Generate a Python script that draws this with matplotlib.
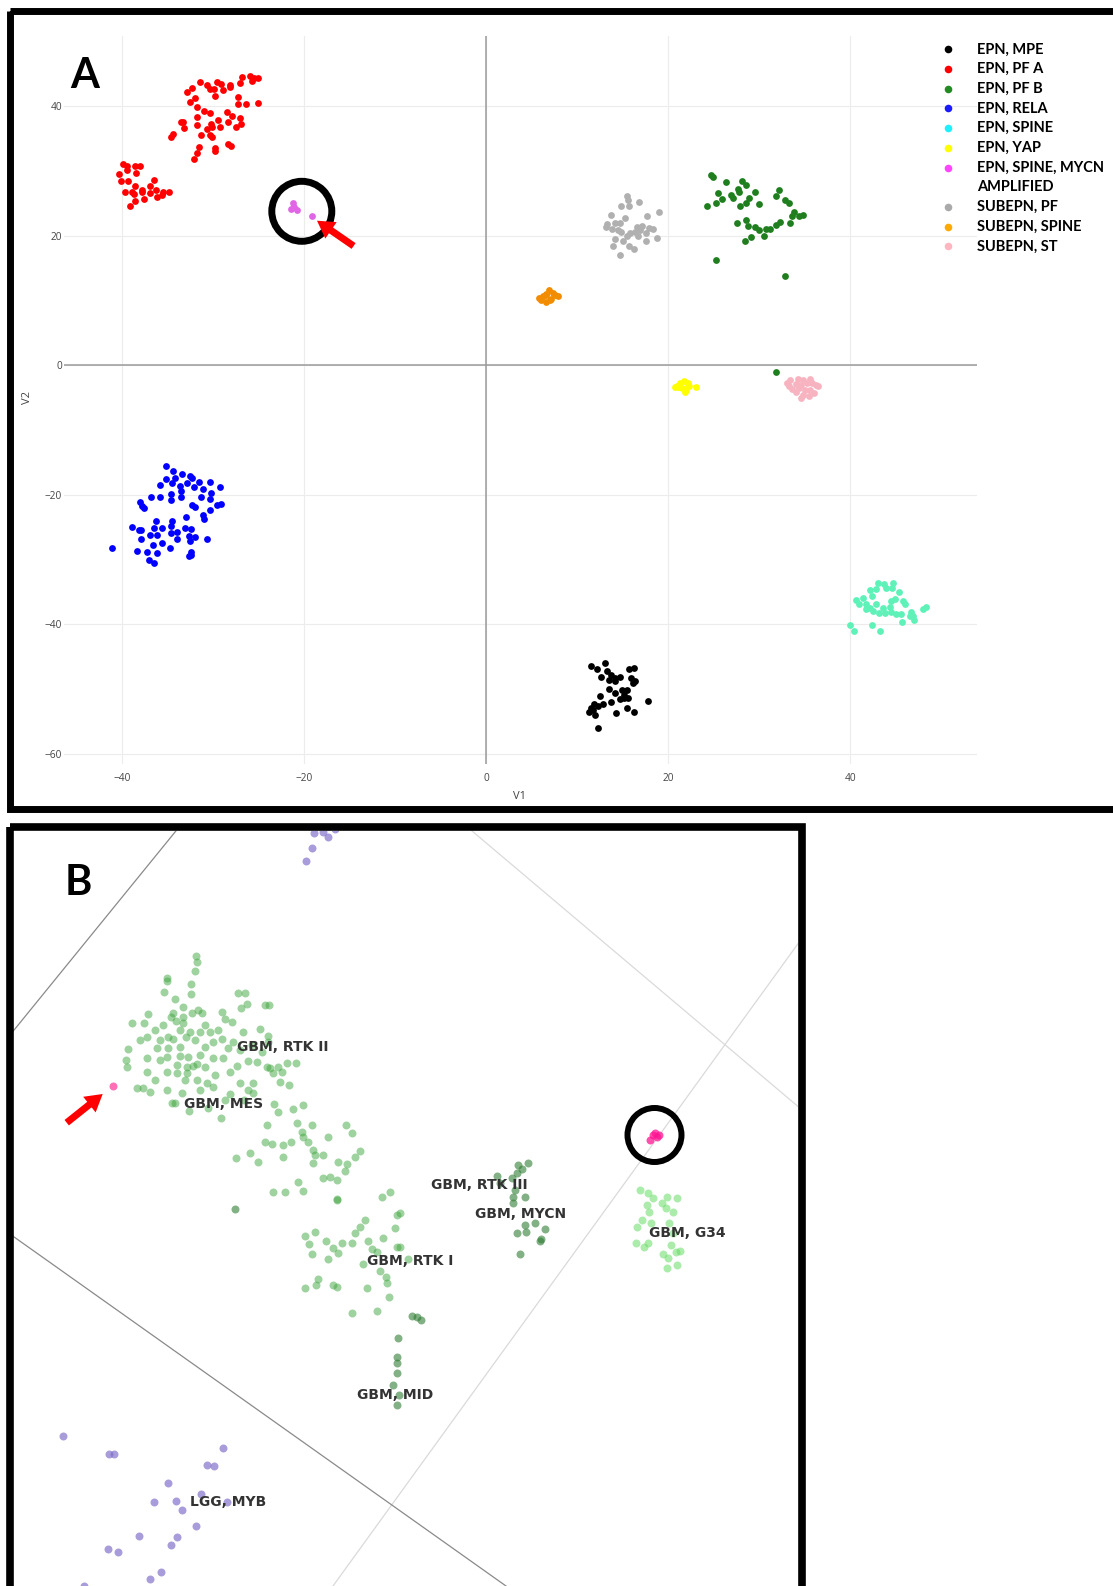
import matplotlib
matplotlib.use("Agg")
import matplotlib.pyplot as plt
from matplotlib.patches import Circle, Rectangle

W, H = 1113, 1586

# ---------------- panel A: t-SNE (V1, V2) of ependymal tumours ----------------
epn_mpe = [(11.5,-46.5),(12.1,-47.0),(13.0,-46.0),(12.6,-48.1),(13.3,-47.3),(13.7,-47.8),(14.1,-48.3),
           (14.7,-48.1),(13.5,-48.6),(14.1,-48.8),(15.7,-47.0),(16.2,-46.7),(15.9,-48.3),(16.3,-48.8),
           (16.1,-49.1),(13.5,-50.0),(14.1,-50.7),(14.9,-50.1),(15.4,-50.1),(12.5,-51.1),(13.7,-52.1),
           (14.7,-51.6),(15.1,-51.4),(15.6,-51.4),(11.8,-52.3),(11.5,-53.0),(12.3,-52.6),(12.8,-52.4),
           (11.3,-53.6),(11.9,-54.0),(14.2,-53.8),(15.4,-53.0),(16.2,-53.5),(17.8,-51.8),(12.3,-56.1),
           (15.1,-50.9),(11.7,-53.2)]
epn_pfa = [(-31.5,43.7),(-30.7,43.3),(-29.6,43.7),(-29.1,43.4),(-28.2,43.2),(-26.9,44.5),(-26.0,44.6),
           (-25.5,44.3),(-25.1,44.4),(-25.8,43.9),(-27.1,43.5),(-28.2,42.9),(-28.9,42.5),(-29.9,42.7),
           (-30.4,42.6),(-32.3,42.8),(-32.9,42.1),(-32.0,41.2),(-29.8,41.6),(-27.3,41.4),(-26.4,40.3),
           (-27.3,40.3),(-25.1,40.5),(-32.6,40.6),(-31.8,39.8),(-31.0,39.3),(-30.4,38.9),(-28.5,39.1),
           (-27.9,38.5),(-27.1,38.1),(-27.0,37.3),(-28.4,37.6),(-29.5,37.8),(-30.2,37.3),(-31.8,38.3),
           (-33.3,37.6),(-33.5,37.5),(-33.2,36.6),(-31.8,37.1),(-30.7,36.4),(-30.1,36.8),(-29.3,36.7),
           (-27.5,36.8),(-34.4,35.7),(-34.6,35.3),(-31.4,35.5),(-30.4,35.5),(-30.1,35.2),(-28.4,34.1),
           (-28.1,33.8),(-31.6,33.7),(-31.8,32.8),(-29.8,33.5),(-29.8,33.0),(-32.1,31.9),
           (-39.9,31.0),(-39.5,30.8),(-38.6,30.8),(-38.0,30.8),(-39.5,30.2),(-38.5,29.7),(-40.4,29.5),
           (-40.1,28.4),(-39.4,28.5),(-38.6,27.7),(-36.5,28.6),(-37.8,27.0),(-37.0,27.7),(-36.3,27.1),
           (-39.7,26.8),(-38.9,26.7),(-38.7,26.4),(-37.8,26.8),(-37.0,26.6),(-36.2,26.0),(-35.5,26.8),
           (-34.9,26.8),(-35.6,26.3),(-37.6,25.7),(-38.6,25.3),(-39.1,24.6)]
epn_pfb = [(24.7,29.4),(24.9,29.0),(26.3,28.3),(28.1,28.4),(28.5,27.8),(27.6,27.2),(25.5,26.6),(26.9,26.3),
           (27.7,26.8),(29.5,26.7),(28.9,25.8),(32.1,27.0),(31.8,26.1),(32.8,25.5),(33.2,25.1),(25.9,25.6),
           (25.2,25.1),(24.2,24.6),(27.1,25.8),(28.5,25.1),(27.9,24.6),(29.9,24.9),(33.8,23.6),(34.3,23.0),
           (34.8,23.2),(33.6,23.1),(27.5,22.0),(28.5,22.4),(28.7,21.5),(29.5,21.4),(29.9,20.9),(30.7,21.0),
           (31.2,21.0),(31.8,21.7),(32.3,22.1),(33.4,21.9),(29.1,19.8),(30.5,19.9),(28.4,19.1),(25.2,16.3),
           (32.8,13.7),(31.8,-1.0)]
epn_rela = [(-35.2,-15.6),(-34.4,-16.3),(-33.4,-16.8),(-32.6,-17.2),(-32.3,-17.5),(-31.6,-18.0),(-30.4,-18.0),
            (-35.2,-17.6),(-34.2,-17.5),(-34.5,-18.2),(-33.7,-18.6),(-32.9,-18.2),(-32.1,-18.8),(-31.1,-19.2),
            (-30.3,-19.7),(-29.3,-18.9),(-35.8,-18.5),(-33.6,-19.4),(-34.6,-19.9),(-36.8,-20.4),(-35.8,-20.4),
            (-33.5,-20.4),(-31.4,-20.4),(-30.4,-20.7),(-34.7,-20.9),(-38.0,-21.1),(-37.8,-21.7),(-37.6,-22.1),
            (-32.3,-21.6),(-32.0,-21.9),(-29.6,-21.6),(-29.1,-21.5),(-30.4,-22.3),(-31.1,-23.2),(-31.0,-23.8),
            (-33.0,-23.4),(-36.3,-24.0),(-34.5,-24.1),(-38.9,-25.0),(-38.2,-25.5),(-37.9,-25.5),(-36.5,-25.2),
            (-35.6,-25.1),(-34.7,-24.8),(-33.1,-25.1),(-32.4,-25.3),(-36.2,-26.2),(-36.9,-26.2),(-34.7,-25.9),
            (-34.0,-25.7),(-32.7,-26.4),(-32.0,-26.6),(-30.7,-26.9),(-34.0,-26.9),(-37.9,-26.8),(-35.6,-27.5),
            (-32.6,-27.2),(-36.6,-27.8),(-34.8,-28.2),(-41.1,-28.2),(-38.4,-28.7),(-37.3,-28.8),(-36.2,-29.0),
            (-32.4,-28.8),(-32.5,-29.3),(-32.7,-29.5),(-37.1,-30.1),(-36.5,-30.6)]
epn_spine = [(43.0,-33.6),(43.7,-33.8),(44.7,-33.7),(43.9,-34.4),(44.6,-34.4),(42.2,-34.8),(42.8,-34.6),
             (45.3,-35.1),(42.4,-35.7),(41.4,-36.0),(40.6,-36.2),(40.9,-36.9),(41.7,-36.9),(42.8,-36.9),
             (44.4,-36.5),(44.9,-36.1),(45.8,-36.5),(46.0,-36.9),(41.7,-37.7),(42.5,-37.9),(43.1,-38.3),
             (43.8,-38.3),(44.4,-38.2),(45.0,-38.5),(45.5,-38.5),(46.6,-38.2),(46.9,-38.8),(48.3,-37.4),
             (48.0,-37.7),(39.9,-40.2),(40.4,-41.1),(42.4,-40.2),(43.2,-41.0),(45.7,-39.6),(47.0,-39.4),
             (44.3,-37.3),(43.6,-37.5),(42.2,-37.5),(46.5,-38.7)]
epn_yap = [(20.9,-3.3),(21.3,-2.8),(21.7,-2.5),(22.1,-3.0),(21.9,-3.8),(21.5,-3.6),(21.1,-3.4),(22.3,-3.3),
           (23.0,-3.4),(20.7,-3.4),(21.8,-4.1),(22.2,-2.7)]
epn_mycn = [(-21.2,25.1),(-21.5,24.1),(-20.8,24.0),(-21.1,24.4),(-19.2,23.0)]
subepn_pf = [(15.5,26.1),(15.6,25.5),(16.8,25.2),(14.8,24.6),(15.7,24.5),(13.7,23.2),(19.0,23.6),(15.2,22.7),
             (17.7,23.1),(14.1,22.0),(14.7,21.9),(13.1,21.4),(13.8,21.0),(14.5,20.9),(16.5,21.3),(17.1,21.5),
             (17.9,21.2),(18.3,21.0),(16.3,20.6),(15.8,20.4),(16.7,20.0),(17.5,20.4),(14.8,20.6),(15.5,19.9),
             (14.1,19.4),(15.0,19.1),(17.5,19.2),(18.8,19.6),(13.9,18.4),(15.7,18.4),(16.2,17.9),(14.7,17.0),
             (13.3,21.8),(16.9,20.9)]
subepn_spine = [(5.8,10.4),(6.2,10.6),(6.5,9.8),(6.5,10.9),(6.9,11.6),(7.1,10.2),(7.0,10.0),(7.5,10.9),
                (7.9,10.7),(6.6,11.0),(6.0,10.0),(7.3,11.2)]
subepn_st = [(33.4,-2.3),(34.2,-2.2),(34.8,-2.3),(35.6,-2.2),(36.2,-3.0),(35.8,-2.8),(35.2,-2.8),(34.6,-3.0),
             (34.0,-2.9),(33.2,-3.3),(33.6,-3.7),(34.4,-3.6),(35.0,-3.8),(35.6,-3.9),(36.0,-4.3),(34.0,-4.2),
             (34.8,-4.6),(35.4,-4.8),(34.6,-5.1),(36.4,-3.2),(33.0,-2.8)]

legend_labels = ["EPN, MPE", "EPN, PF A", "EPN, PF B", "EPN, RELA", "EPN, SPINE", "EPN, YAP",
                 "EPN, SPINE, MYCN\nAMPLIFIED", "SUBEPN, PF", "SUBEPN, SPINE", "SUBEPN, ST"]
legend_colors = ["#000000", "#ff0000", "#228b22", "#1a1aff", "#1ff0ff", "#ffff00",
                 "#ff44ff", "#aaaaaa", "#ffaa00", "#ffb6c1"]

# ---------------- panel B: 3D t-SNE screenshot (screen coordinates) ----------------
purple_top = [(314,833),(323,832),(328,837),(312,848),(306,861),(335,829)]
lgg_myb = [(63,1436),(109,1454),(114,1454),(223,1448),(207,1465),(214,1466),(168,1483),(201,1494),
           (154,1502),(176,1501),(182,1510),(227,1502),(196,1526),(139,1536),(177,1537),(171,1545),
           (108,1549),(118,1552),(161,1572),(150,1579),(84,1586)]
gbm_main = [(196,956),(197,962),(195,971),(167,978),(167,981),(191,984),(164,992),(191,994),(175,999),(183,1007),
            (238,993),(245,993),(247,1004),(241,1008),(265,1005),(269,1005),(198,1010),(202,1013),(222,1012),
            (192,1013),(173,1013),(183,1017),(171,1017),(148,1014),(132,1023),(144,1023),(183,1023),(225,1019),
            (232,1022),(243,1032),(260,1029),(268,1036),(268,1042),(200,1032),(210,1032),(180,1030),(190,1032),
            (147,1037),(160,1040),(168,1037),(173,1039),(222,1039),(213,1042),(195,1040),(157,1048),(168,1048),
            (180,1047),(205,1047),(233,1042),(128,1049),(126,1060),(127,1067),(147,1058),(167,1057),(180,1056),
            (188,1057),(200,1055),(213,1058),(223,1058),(248,1061),(257,1062),(267,1067),(278,1067),(287,1063),
            (296,1063),(177,1065),(187,1067),(193,1066),(205,1067),(147,1072),(167,1072),(177,1073),(187,1073),
            (237,1066),(270,1068),(273,1073),(282,1072),(185,1080),(197,1080),(213,1087),(240,1083),(253,1083),
            (289,1085),(137,1088),(143,1088),(150,1092),(167,1090),(182,1093),(200,1090),(248,1090),(253,1093),
            (230,1094),(172,1103),(175,1103),(189,1111),(208,1108),(221,1118),(274,1104),(303,1105),(293,1109),
            (278,1112),(267,1125),(297,1123),(312,1125),(346,1125),(352,1133),(302,1132),(303,1137),(328,1137),
            (265,1142),(272,1144),(283,1145),(291,1142),(308,1142),(313,1150),(315,1155),(323,1155),(313,1163),
            (338,1162),(347,1164),(360,1151),(355,1157),(345,1171),(323,1178),(330,1177),(337,1180),(236,1158),
            (250,1153),(258,1162),(283,1157),(298,1182),(273,1192),(285,1192),(303,1191),(337,1199),(382,1197),
            (390,1192),(155,1030),(163,1025),(176,1021),(186,1037),(205,1025),(218,1030),(228,1048),(240,1050),
            (252,1045),(160,1060),(197,1064),(215,1075),(230,1072),(262,1052),(140,1040),(155,1080),(207,1083),
            (225,1100),(244,1100),(280,1082)]
gbm_rtk1 = [(337,1200),(397,1215),(395,1228),(365,1220),(360,1227),(355,1233),(352,1243),(368,1241),(383,1238),
            (397,1247),(305,1236),(315,1232),(309,1244),(326,1241),(342,1243),(333,1248),(338,1253),(328,1259),
            (312,1254),(372,1249),(377,1252),(363,1264),(380,1271),(386,1277),(387,1283),(318,1279),(316,1285),
            (305,1288),(333,1285),(337,1287),(367,1288),(389,1297),(352,1313),(377,1311),(400,1213),(400,1247),
            (408,1259)]
gbm_dark = [(235,1209),(398,1338),(397,1357),(397,1363),(397,1373),(393,1385),(399,1395),(397,1405),(412,1316),
            (417,1317),(421,1320),(528,1163),(518,1165),(522,1169),(517,1173),(512,1178),(497,1176),(500,1183),
            (515,1190),(525,1197),(513,1197),(513,1203),(525,1225),(535,1223),(545,1229),(517,1233),(526,1232),
            (541,1239),(540,1241),(520,1254)]
gbm_g34 = [(640,1190),(648,1193),(653,1198),(667,1197),(677,1198),(662,1203),(647,1205),(649,1212),(666,1208),
           (673,1212),(642,1220),(637,1227),(651,1223),(669,1223),(673,1233),(636,1243),(648,1243),(644,1247),
           (663,1254),(671,1245),(680,1251),(676,1252),(668,1258),(667,1268),(677,1265)]
pink_cluster = [(653,1135),(657,1137),(650,1140),(659,1135),(655,1133)]
pink_lone = [(113,1086)]

b_labels = ["GBM, RTK II", "GBM, MES", "GBM, RTK III", "GBM, MYCN", "GBM, G34", "GBM, RTK I", "GBM, MID", "LGG, MYB"]
b_label_pos = [(237,1047), (184,1104), (431,1185), (475,1214), (649,1233), (367,1261), (357,1395), (190,1502)]


def xy(pts):
    return [p[0] for p in pts], [p[1] for p in pts]


fig = plt.figure(figsize=(W / 100, H / 100), dpi=100)

# ---- panel A
axA = fig.add_axes([64 / W, 1 - 764 / H, 913 / W, 728.5 / H])
seriesA = [(epn_mpe, "#000000"), (epn_pfa, "#ff0000"), (epn_pfb, "#1f7f1f"), (epn_rela, "#0000ff"),
           (epn_spine, "#5ef2b8"), (epn_yap, "#ffff00"), (epn_mycn, "#e066e6"), (subepn_pf, "#b0b0b0"),
           (subepn_spine, "#f28c00"), (subepn_st, "#f7b3c0")]
for pts, col in seriesA:
    x, y = xy(pts)
    axA.scatter(x, y, s=24, c=col, linewidths=0, zorder=3)
axA.set_xlim(-46.4, 53.9)
axA.set_ylim(-61.6, 50.9)
axA.set_xticks([-40, -20, 0, 20, 40])
axA.set_yticks([-60, -40, -20, 0, 20, 40])
axA.grid(color="#ececec", lw=0.8)
axA.set_axisbelow(True)
axA.axhline(0, color="#9a9a9a", lw=1.1, zorder=2)
axA.axvline(0, color="#9a9a9a", lw=1.1, zorder=2)
for s in axA.spines.values():
    s.set_visible(False)
axA.tick_params(length=0, labelsize=7.3, labelcolor="#444444")
axA.tick_params(axis="y", pad=1.5)
axA.tick_params(axis="x", pad=6.5)
for lab in axA.get_xticklabels() + axA.get_yticklabels():
    lab.set_family(["Open Sans", "DejaVu Sans"])
axA.set_xlabel("V1", fontsize=8, color="#444444", family="Open Sans")
axA.set_ylabel("V2", fontsize=8, color="#444444", family="Open Sans")
axA.xaxis.set_label_coords(0.499, -0.037)
axA.yaxis.set_label_coords(-0.034, 0.503)

# ---- panel B
axB = fig.add_axes([13 / W, 0, 785 / W, (1586 - 831) / H])
axB.set_xlim(13, 798)
axB.set_ylim(1586, 831)
axB.axis("off")
axB.axline((176.7, 830), (12.7, 1031.7), color="#8a8a8a", lw=0.9)
axB.axline((471.7, 830.7), (798.3, 1106.7), color="#dadada", lw=0.9)
axB.axline((798.3, 943.3), (333, 1586), color="#dadada", lw=0.9)
axB.axline((12.7, 1236), (506, 1586), color="#8a8a8a", lw=0.9)
seriesB = [(purple_top, "#7b68c8", 0.65), (lgg_myb, "#7b68c8", 0.65), (gbm_main, "#3fa63f", 0.5),
           (gbm_rtk1, "#3fa63f", 0.5), (gbm_dark, "#2e7d32", 0.6), (gbm_g34, "#66dd66", 0.55),
           (pink_cluster, "#ff1493", 0.75), (pink_lone, "#ff5fae", 0.9)]
for pts, col, a in seriesB:
    x, y = xy(pts)
    axB.scatter(x, y, s=33, c=col, alpha=a, linewidths=0, zorder=3)
for lab, (lx, ly) in zip(b_labels, b_label_pos):
    axB.text(lx, ly, lab, ha="left", va="center", fontsize=10, fontweight="bold",
             color="#333333", family="DejaVu Sans", zorder=5)

# ---- overlay: frames, letters, legend, annotations
ov = fig.add_axes([0, 0, 1, 1], facecolor="none")
ov.set_xlim(0, W)
ov.set_ylim(H, 0)
ov.axis("off")
ov.add_patch(Rectangle((9.8, 10.5), 1200, 798, fill=False, ec="black", lw=5.0))
ov.add_patch(Rectangle((9.5, 827), 792, 800, fill=False, ec="black", lw=5.5))
ov.text(70, 87.5, "A", fontsize=30, fontweight="bold", family=["Lato", "DejaVu Sans"], va="baseline")
ov.text(65, 895, "B", fontsize=30, fontweight="bold", family=["Lato", "DejaVu Sans"], va="baseline")

row = 0
for lab, col in zip(legend_labels, legend_colors):
    ov.scatter([948.3], [49.3 + 19.7 * row], s=30, c=col, linewidths=0)
    for line in lab.split("\n"):
        ov.text(976.8, 49.3 + 19.7 * row, line, fontsize=10.5, fontweight="bold",
                family=["Lato", "DejaVu Sans"], va="center", ha="left")
        row += 1

ov.add_patch(Circle((301.8, 211.3), 30, fill=False, ec="black", lw=5))
ov.add_patch(Circle((654.5, 1135), 27, fill=False, ec="black", lw=4.3))
ov.arrow(353.6, 246, 317 - 353.6, 220.7 - 246, width=7, head_width=20, head_length=17,
         length_includes_head=True, color="red", lw=0)
ov.arrow(66.7, 1122.7, 102.7 - 66.7, 1094 - 1122.7, width=7, head_width=20, head_length=17,
         length_includes_head=True, color="red", lw=0)

fig.savefig("out.png", dpi=100)
